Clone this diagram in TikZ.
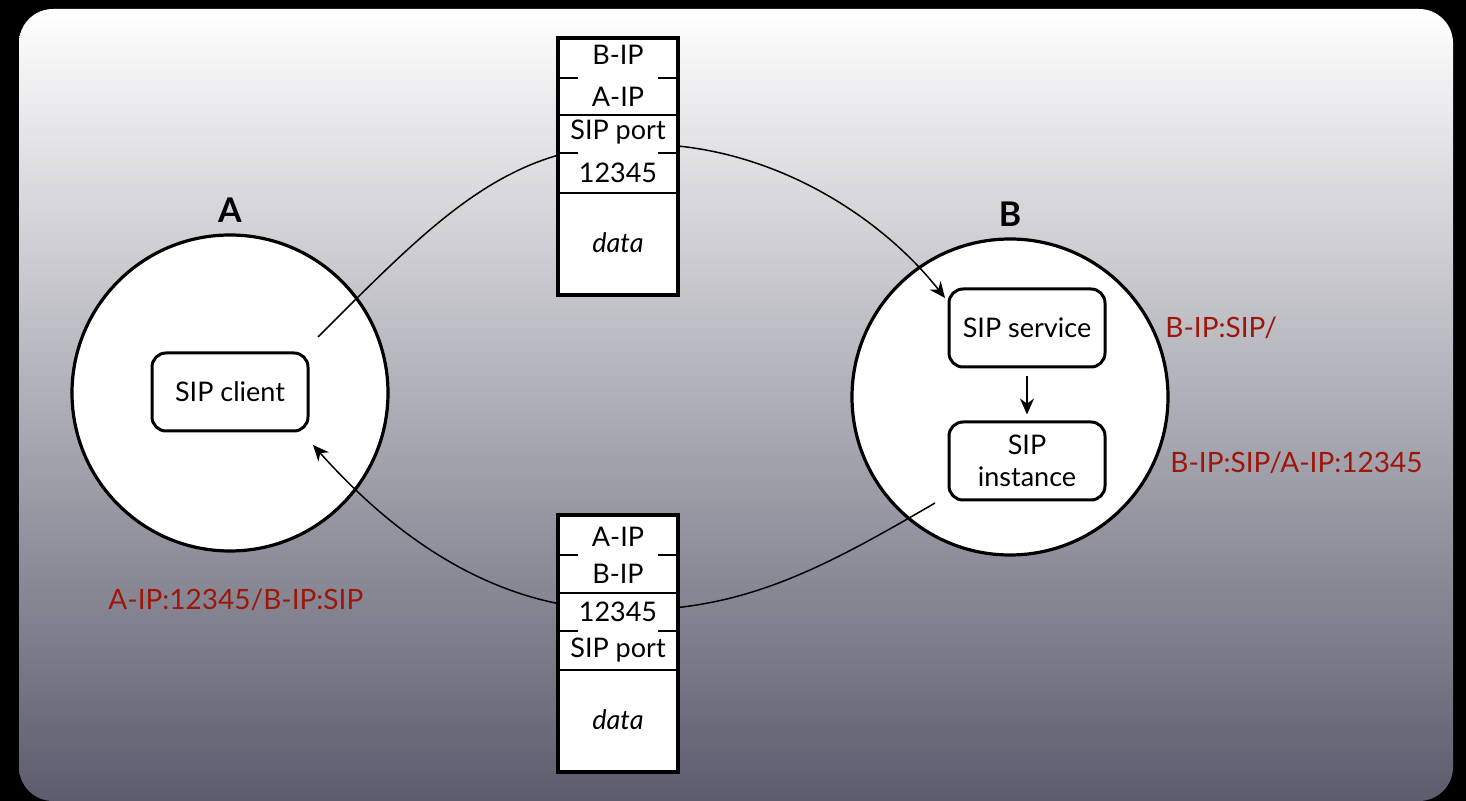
\documentclass[tikz,border=0pt]{standalone}
\usepackage{fontspec}
\setmainfont{Lato}
\usetikzlibrary{arrows.meta}
\definecolor{addrred}{RGB}{158,22,10}
\definecolor{bgbot}{RGB}{92,92,110}
\tikzset{
  host/.style={circle,draw,fill=white,line width=1.6pt,minimum size=158pt,inner sep=0pt},
  proc/.style={draw,fill=white,rounded corners=7pt,line width=1.5pt,minimum width=78pt,minimum height=39pt,align=center,font=\fontsize{13.5}{15}\selectfont},
  pkt/.style={draw,fill=white,line width=1.6pt,minimum width=60pt,minimum height=128.5pt,inner sep=0pt},
  fld/.style={inner sep=0pt,font=\fontsize{13.5}{15}\selectfont},
  addr/.style={anchor=west,text=addrred,inner sep=0pt,font=\fontsize{14}{16}\selectfont},
  hostname/.style={font=\fontsize{17}{19}\selectfont\bfseries},
  wire/.style={line width=0.75pt},
}
\begin{document}
\begin{tikzpicture}[x=0.5pt,y=-0.5pt,>={Stealth[length=8pt,width=7pt]}]
\fill[black] (0,0) rectangle (1466,801);
\shade[top color=white,bottom color=bgbot,rounded corners=17pt] (19,9) rectangle (1453,801);

% hosts
\node[host] (A) at (230,393) {};
\node[hostname] (Alabel) at (230,210) {A};
\node[proc] (client) at (230,392) {SIP client};

\node[host] (B) at (1010,397) {};
\node[hostname] (Blabel) at (1010,214) {B};
\node[proc] (service) at (1027,328) {SIP service};
\node[proc] (instance) at (1027,461) {SIP\\[1pt]instance};
\draw[->,line width=1pt] ([yshift=-4pt]service.south) -- ([yshift=3pt]instance.north);

% addresses
\node[addr] (srvaddr) at (1165,328) {B-IP:SIP/};
\node[addr] (instaddr) at (1170,463) {B-IP:SIP/A-IP:12345};
\node[addr] (cliaddr) at (108,600) {A-IP:12345/B-IP:SIP};

% connectors
\coordinate (aout) at (318,337);
\coordinate (bin) at (945,298);
\coordinate (bout) at (935,503);
\coordinate (ain) at (313,445);
\draw[->,wire] (aout) .. controls (430,225) and (500,152) .. (618,145) .. controls (760,135) and (880,215) .. (bin);
\draw[->,wire] (bout) .. controls (820,570) and (740,613) .. (618,610) .. controls (480,608) and (380,520) .. (ain);

% packet A -> B
\begin{scope}[shift={(558,38)}]
\node[pkt] (p1) at (60,128.5) {};
\foreach \t/\y [count=\i] in {B-IP/17,A-IP/59,SIP port/94,12345/135}
  \node[fld] (p1f\i) at (60,\y) {\t};
\node[fld] (p1d) at (60,205) {\itshape data};
\foreach \y in {77,155} \draw[line width=1pt] (0,\y) -- (120,\y);
\foreach \y in {40,115} {\draw[line width=1pt] (0,\y) -- (20,\y); \draw[line width=1pt] (100,\y) -- (120,\y);}
\end{scope}

% packet B -> A
\begin{scope}[shift={(558,515)}]
\node[pkt] (p2) at (60,128.5) {};
\foreach \t/\y [count=\i] in {A-IP/22,B-IP/59,12345/97,SIP port/135}
  \node[fld] (p2f\i) at (60,\y) {\t};
\node[fld] (p2d) at (60,205) {\itshape data};
\foreach \y in {78,155} \draw[line width=1pt] (0,\y) -- (120,\y);
\foreach \y in {40,116} {\draw[line width=1pt] (0,\y) -- (20,\y); \draw[line width=1pt] (100,\y) -- (120,\y);}
\end{scope}
\end{tikzpicture}
\end{document}
